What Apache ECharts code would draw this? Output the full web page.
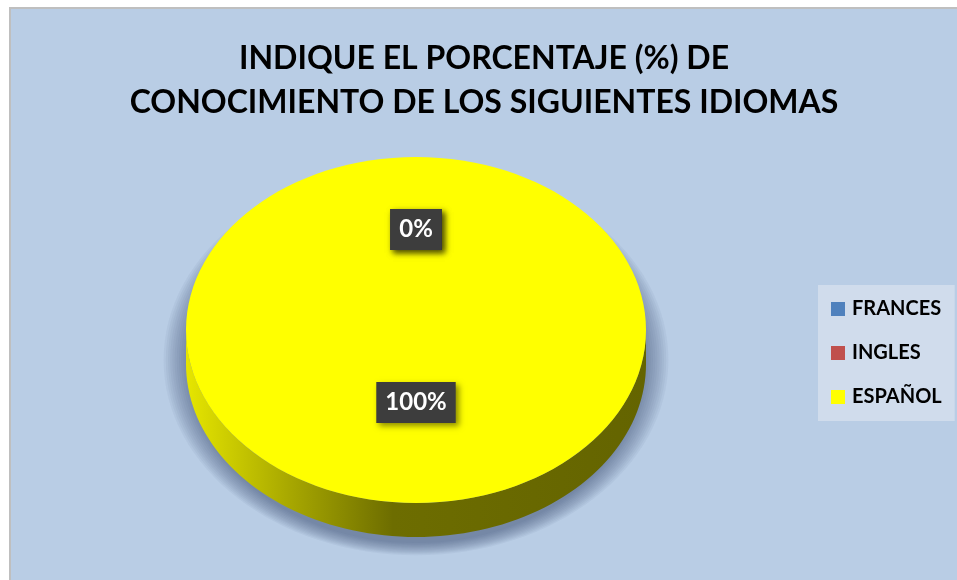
<!DOCTYPE html>
<html>
<head>
<meta charset="utf-8">
<script src="https://cdn.jsdelivr.net/npm/echarts@6/dist/echarts.min.js"></script>
<style>
  html, body { margin: 0; padding: 0; background: #ffffff; }
  #chart { width: 957px; height: 580px; }
</style>
</head>
<body>
<div id="chart"></div>
<script>
// Survey answers: share of people who know each language
const languages = ['FRANCES', 'INGLES', 'ESPAÑOL'];
const percentages = [0, 0, 100];
const sliceColors = ['#4f81bd', '#c0504d', '#ffff00'];
const sideGradients = [
  ['#6f9bd6', '#3f6aa0', '#2a4d7a', '#24446b'],
  ['#d67a77', '#a8403d', '#7d2e2c', '#702826'],
  ['#e6e600', '#a9a900', '#6d6d00', '#646400']
];

const PLOT_BG = '#b9cde5';
// 3D pie geometry (tilted disc)
const PIE = { cx: 416, cy: 330, rx: 230, ry: 173, depth: 34 };

const total = percentages.reduce((a, b) => a + b, 0);
const startAngles = [];
percentages.reduce((acc, v, i) => { startAngles[i] = acc; return acc + v / total * 360; }, 0);

// angle in degrees, clockwise from 12 o'clock
function pt(deg, dy) {
  const r = deg * Math.PI / 180;
  return [PIE.cx + PIE.rx * Math.sin(r), PIE.cy - PIE.ry * Math.cos(r) + (dy || 0)];
}
function arcPoints(a0, a1, dy) {
  const pts = [];
  const steps = Math.max(2, Math.ceil(Math.abs(a1 - a0) / 2));
  for (let k = 0; k <= steps; k++) pts.push(pt(a0 + (a1 - a0) * k / steps, dy));
  return pts;
}

// soft shadow under the disc, built from stacked translucent ellipses
function shadowRings() {
  const rings = [];
  const layers = 12;
  for (let k = layers; k >= 1; k--) {
    const grow = k * 2.2;
    rings.push({
      type: 'ellipse', z2: 0, silent: true,
      shape: {
        cx: PIE.cx,
        cy: PIE.cy + 30,
        rx: PIE.rx - 4 + grow,
        ry: PIE.ry + PIE.depth / 2 - 8 + grow * 0.5
      },
      style: { fill: 'rgba(60,80,110,0.055)' }
    });
  }
  return rings;
}

function renderSlice(params, api) {
  const i = params.seriesIndex;
  const value = api.value(0);
  const sweep = value / total * 360;
  const a0 = startAngles[i];
  const a1 = a0 + sweep;
  let children = [];

  if (sweep > 0) {
    if (sweep >= 360) children = children.concat(shadowRings());
    // outer wall: only the front half (90°..270°) is visible
    const s0 = Math.max(a0, 90), s1 = Math.min(a1, 270);
    if (s1 > s0) {
      const top = arcPoints(s0, s1, 0);
      const bottom = arcPoints(s1, s0, PIE.depth);
      const g = sideGradients[i];
      children.push({
        type: 'polygon',
        z2: 1,
        shape: { points: top.concat(bottom) },
        style: {
          fill: {
            type: 'linear', global: true,
            x: PIE.cx - PIE.rx, y: 0, x2: PIE.cx + PIE.rx, y2: 0,
            colorStops: [
              { offset: 0, color: g[0] },
              { offset: 0.22, color: g[1] },
              { offset: 0.45, color: g[2] },
              { offset: 1, color: g[3] }
            ]
          }
        }
      });
    }
    // top face
    if (sweep >= 360) {
      children.push({
        type: 'ellipse', z2: 2,
        shape: { cx: PIE.cx, cy: PIE.cy, rx: PIE.rx, ry: PIE.ry },
        style: { fill: api.visual('color') }
      });
    } else {
      children.push({
        type: 'polygon', z2: 2,
        shape: { points: [[PIE.cx, PIE.cy]].concat(arcPoints(a0, a1, 0)) },
        style: { fill: api.visual('color') }
      });
    }
  }

  // data label at the middle of the slice
  const mid = (a0 + a1) / 2 * Math.PI / 180;
  children.push({
    type: 'text', z2: 10,
    x: PIE.cx + 0.5 * PIE.rx * Math.sin(mid),
    y: PIE.cy - 14 - 0.5 * PIE.ry * Math.cos(mid),
    style: {
      text: value + '%',
      fill: '#ffffff',
      font: 'bold 24px Lato',
      align: 'center',
      verticalAlign: 'middle',
      backgroundColor: '#3d3d3d',
      padding: [9, 9, 8, 9],
      shadowBlur: 6,
      shadowColor: 'rgba(0,0,0,0.45)',
      shadowOffsetX: 3,
      shadowOffsetY: 3
    }
  });
  return { type: 'group', children: children };
}

const chart = echarts.init(document.getElementById('chart'), null, { renderer: 'canvas' });

chart.setOption({
  backgroundColor: 'transparent',
  animation: false,
  graphic: [{
    type: 'rect', z: -10, silent: true,
    shape: { x: 10, y: 8, width: 960, height: 590 },
    style: { fill: PLOT_BG, stroke: '#bfbfbf', lineWidth: 2 }
  }],
  title: {
    text: 'INDIQUE EL PORCENTAJE (%) DE\nCONOCIMIENTO DE LOS SIGUIENTES IDIOMAS',
    left: 484,
    top: 37,
    textAlign: 'center',
    padding: 0,
    textStyle: {
      fontFamily: 'Lato',
      fontWeight: 'bold',
      fontSize: 32,
      lineHeight: 44,
      color: '#000000'
    }
  },
  legend: {
    orient: 'vertical',
    left: 818,
    top: 285,
    padding: [14, 13, 14, 13],
    itemWidth: 14,
    itemHeight: 14,
    itemGap: 24,
    icon: 'rect',
    backgroundColor: '#d0dcec',
    data: languages,
    textStyle: {
      fontFamily: 'Lato',
      fontWeight: 'bold',
      fontSize: 20,
      lineHeight: 20,
      color: '#000000',
      padding: [0, 0, 0, 2]
    }
  },
  series: languages.map((name, i) => ({
    type: 'custom',
    name: name,
    coordinateSystem: 'none',
    itemStyle: { color: sliceColors[i] },
    renderItem: renderSlice,
    data: [percentages[i]]
  }))
});
</script>
</body>
</html>
